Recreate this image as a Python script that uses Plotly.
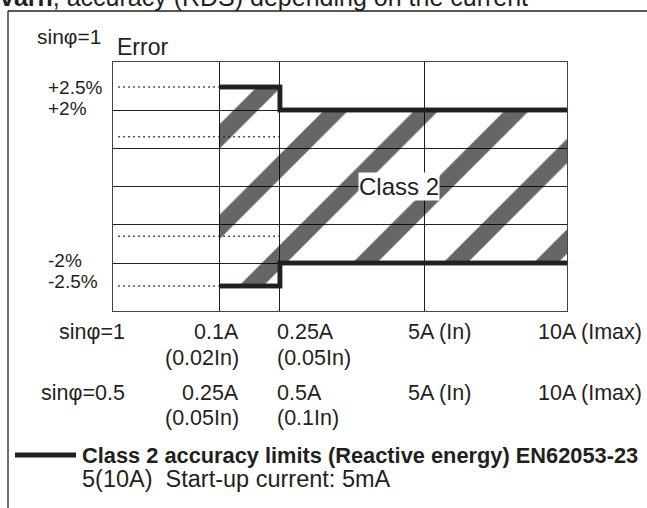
import plotly.graph_objects as go

# ---- data ----
grid_x = [1.0, 1.575, 2.934]          # vertical grid positions (0.1A, 0.25A, 5A)
x_end = 4.283                          # 10A (Imax)
grid_y = [-2, -1, 0, 1, 2]
limit_x = [1.0, 1.575, x_end]
upper_limit = [2.6, 2.0, 2.0]
lower_limit = [-2.6, -2.0, -2.0]
dotted_levels = [2.6, 1.3, -1.3, -2.6]
dotted_ends = [1.0, 1.575, 1.575, 1.0]

y_labels = ["+2.5%", "+2%", "-2%", "-2.5%"]
row1 = ["sinφ=1", "0.1A", "0.25A", "5A (In)", "10A (Imax)"]
row2 = ["", "(0.02In)", "(0.05In)", "", ""]
row3 = ["sinφ=0.5", "0.25A", "0.5A", "5A (In)", "10A (Imax)"]
row4 = ["", "(0.05In)", "(0.1In)", "", ""]
legend_text = "Class 2 accuracy limits (Reactive energy) EN62053-23"
note_text = "5(10A)\u00a0\u00a0Start-up current: 5mA"
title_text = "<b>varh</b>, accuracy (RDS) depending on the current"

W, H = 647, 508
L, R, T, B = 113, 80, 62, 197
PW, PH = W - L - R, H - T - B
INK = "#231f20"
FONT = "Liberation Sans"


def px(x):
    return (x - L) / PW


def py(y):
    return (H - B - y) / PH


fig = go.Figure()

# hatched Class 2 region
fig.add_trace(go.Scatter(x=limit_x, y=lower_limit, mode="lines", line_shape="hv",
                         line=dict(color=INK, width=4.5), showlegend=False, hoverinfo="skip"))
fig.add_trace(go.Scatter(x=limit_x, y=upper_limit, mode="lines", line_shape="hv",
                         fill="tonexty", fillcolor="rgba(0,0,0,0)",
                         fillpattern=dict(shape="/", fgcolor="black", bgcolor="rgba(255,255,255,0)",
                                          size=64, solidity=0.27, fgopacity=0.6),
                         line=dict(color=INK, width=4.5), showlegend=False, hoverinfo="skip"))

# dotted reference lines
for lvl, xe in zip(dotted_levels, dotted_ends):
    fig.add_trace(go.Scatter(x=[0.05, xe], y=[lvl, lvl], mode="lines",
                             line=dict(color=INK, width=1.6, dash="1.5px,3.5px"),
                             showlegend=False, hoverinfo="skip"))

# redraw limits on top
fig.add_trace(go.Scatter(x=limit_x, y=upper_limit, mode="lines", line_shape="hv",
                         line=dict(color=INK, width=4.5), showlegend=False, hoverinfo="skip"))
fig.add_trace(go.Scatter(x=limit_x, y=lower_limit, mode="lines", line_shape="hv",
                         line=dict(color=INK, width=4.5), showlegend=False, hoverinfo="skip"))

ann = []


def add(text, x, y, anchor="left", size=19, bold=False, bg=None):
    d = dict(text=f"<b>{text}</b>" if bold else text, x=px(x), y=py(y), xref="paper", yref="paper",
             xanchor=anchor, yanchor="middle", showarrow=False,
             font=dict(family=FONT, size=size, color=INK))
    if bg:
        d["bgcolor"] = bg
    ann.append(d)


add(title_text, -2, -3, size=25)
add("sinφ=1", 35, 36, size=21)
add("Error", 115, 47, size=23)
for lab, yy in zip(y_labels, [87, 108, 260, 281]):
    add(lab, 46, yy, size=19)

# Class 2 label
ann.append(dict(text="Class 2", x=2.70, y=0.0, xref="x", yref="y", showarrow=False,
                font=dict(family=FONT, size=24, color=INK), bgcolor="white", borderpad=0))

anchors = [(127, "right"), (241, "right"), (275, "left"), (406, "left"), (536, "left")]
for row, yy in zip([row1, row2, row3, row4], [332, 358, 393, 418]):
    for txt, (xx, a) in zip(row, anchors):
        if txt:
            add(txt, xx, yy, anchor=a, size=21.5)

add(legend_text, 80, 455, size=21.8, bold=True)
add(note_text, 80, 479, size=23.5)

shapes = [
    dict(type="line", xref="paper", yref="paper", x0=px(8), x1=px(8), y0=py(11), y1=py(520),
         line=dict(color=INK, width=1.3)),
    dict(type="line", xref="paper", yref="paper", x0=px(8), x1=px(660), y0=py(11), y1=py(11),
         line=dict(color=INK, width=1.3)),
    dict(type="line", xref="paper", yref="paper", x0=px(15), x1=px(76), y0=py(455), y1=py(455),
         line=dict(color=INK, width=5)),
]

fig.update_layout(
    width=W, height=H, margin=dict(l=L, r=R, t=T, b=B),
    paper_bgcolor="white", plot_bgcolor="white",
    annotations=ann, shapes=shapes, showlegend=False,
    xaxis=dict(range=[0, x_end], tickvals=grid_x, showticklabels=False, ticks="",
               showgrid=True, gridcolor=INK, gridwidth=1, zeroline=False,
               showline=True, linecolor="#444", linewidth=1.3, mirror=True, fixedrange=True),
    yaxis=dict(range=[-3.255, 3.255], tickvals=grid_y, showticklabels=False, ticks="",
               showgrid=True, gridcolor=INK, gridwidth=1, zeroline=False,
               showline=True, linecolor="#444", linewidth=1.3, mirror=True, fixedrange=True),
)

fig.write_html("out.html", config={"displayModeBar": False},
               post_script="document.body.style.margin='0';document.body.style.overflow='hidden';")
